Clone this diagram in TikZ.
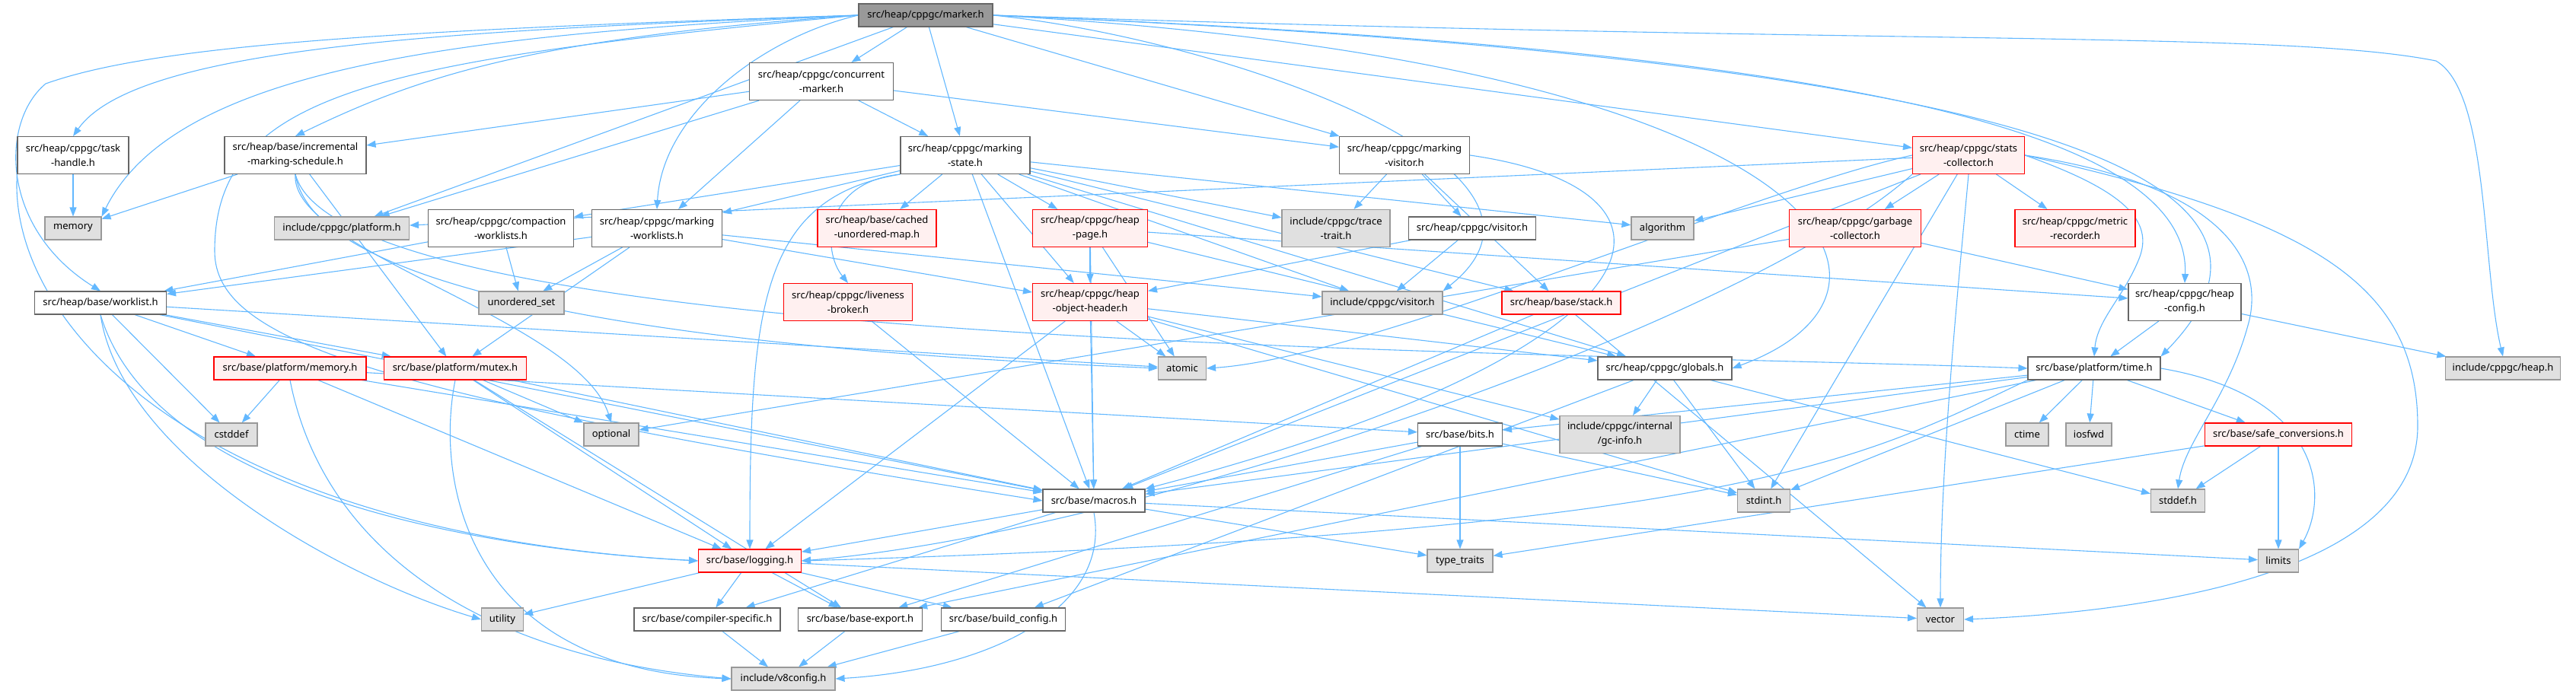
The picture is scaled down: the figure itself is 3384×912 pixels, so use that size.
\documentclass[tikz,border=0pt]{standalone}
\usepackage{fontspec}
\setmainfont{Noto Sans}
\usetikzlibrary{arrows.meta,backgrounds}
\definecolor{depB}{RGB}{99,184,255}
\definecolor{fileD}{RGB}{102,102,102}
\definecolor{sysF}{RGB}{224,224,224}
\definecolor{sysD}{RGB}{153,153,153}
\definecolor{cutF}{RGB}{255,240,240}
\definecolor{cutD}{RGB}{255,0,0}
\definecolor{rootF}{RGB}{153,153,153}
\tikzset{
  hfile/.style={draw=fileD, fill=white, line width=1.1pt, minimum height=30pt, inner xsep=4pt, inner ysep=2pt, align=center, font=\fontsize{13}{19}\selectfont},
  htwo/.style={minimum height=49pt},
  hsys/.style={hfile, draw=sysD, fill=sysF},
  hcut/.style={hfile, draw=cutD, fill=cutF},
  hroot/.style={hfile, fill=rootF},
  incl/.style={draw=depB, line width=1.1pt, -{Triangle[length=12pt,width=9pt]}},
}

\begin{document}
\begin{tikzpicture}[x=1pt,y=-1pt]
  \useasboundingbox (0,0) rectangle (3384,912);
  % row 0-1
  \node[hroot, minimum width=176pt] (marker) at (1216,20) {src/heap/cppgc/marker.h};
  \node[hfile, htwo, minimum width=189pt] (concmarker) at (1079,107) {src/heap/cppgc/concurrent\\-marker.h};
  % row 2
  \node[hfile, htwo, minimum width=146pt] (taskhandle) at (96,204) {src/heap/cppgc/task\\-handle.h};
  \node[hfile, htwo, minimum width=186pt] (incsched) at (388,204) {src/heap/base/incremental\\-marking-schedule.h};
  \node[hfile, htwo, minimum width=170pt] (markstate) at (1268,204) {src/heap/cppgc/marking\\-state.h};
  \node[hfile, htwo, minimum width=171pt] (markvisitor) at (1845,204) {src/heap/cppgc/marking\\-visitor.h};
  \node[hcut, htwo, minimum width=147pt] (stats) at (2586,204) {src/heap/cppgc/stats\\-collector.h};
  % row 3
  \node[hsys, minimum width=74pt] (memory) at (96,300) {memory};
  \node[hsys, minimum width=177pt] (platformh) at (449,300) {include/cppgc/platform.h};
  \node[hfile, htwo, minimum width=191pt] (compaction) at (658,300) {src/heap/cppgc/compaction\\-worklists.h};
  \node[hfile, htwo, minimum width=171pt] (markworklists) at (863,300) {src/heap/cppgc/marking\\-worklists.h};
  \node[hcut, htwo, minimum width=156pt] (cachedmap) at (1152,300) {src/heap/base/cached\\-unordered-map.h};
  \node[hcut, htwo, minimum width=151pt] (heappage) at (1432,300) {src/heap/cppgc/heap\\-page.h};
  \node[hsys, htwo, minimum width=142pt] (tracetrait) at (1755,300) {include/cppgc/trace\\-trait.h};
  \node[hfile, minimum width=167pt] (cvisitor) at (1934,300) {src/heap/cppgc/visitor.h};
  \node[hsys, minimum width=82pt] (algorithm) at (2184,300) {algorithm};
  \node[hcut, htwo, minimum width=173pt] (gc) at (2437,300) {src/heap/cppgc/garbage\\-collector.h};
  \node[hcut, htwo, minimum width=158pt] (metric) at (2726,300) {src/heap/cppgc/metric\\-recorder.h};
  % row 4
  \node[hfile, minimum width=173pt] (worklist) at (132,398) {src/heap/base/worklist.h};
  \node[hsys, minimum width=112pt] (unorderedset) at (685,398) {unordered\_set};
  \node[hcut, htwo, minimum width=169pt] (liveness) at (1114,397) {src/heap/cppgc/liveness\\-broker.h};
  \node[hcut, htwo, minimum width=151pt] (hoh) at (1432,397) {src/heap/cppgc/heap\\-object-header.h};
  \node[hsys, minimum width=158pt] (visitorh) at (1816,398) {include/cppgc/visitor.h};
  \node[hcut, minimum width=156pt] (stack) at (2051,398) {src/heap/base/stack.h};
  \node[hfile, htwo, minimum width=148pt] (heapconfig) at (2870,397) {src/heap/cppgc/heap\\-config.h};
  % row 5
  \node[hcut, minimum width=200pt] (pmemory) at (381,484) {src/base/platform/memory.h};
  \node[hcut, minimum width=187pt] (pmutex) at (598,484) {src/base/platform/mutex.h};
  \node[hsys, minimum width=63pt] (atomic) at (1553,484) {atomic};
  \node[hfile, minimum width=176pt] (globals) at (2187,484) {src/heap/cppgc/globals.h};
  \node[hfile, minimum width=174pt] (ptime) at (2751,484) {src/base/platform/time.h};
  \node[hsys, minimum width=151pt] (heaph) at (3288,484) {include/cppgc/heap.h};
  % row 6
  \node[hsys, minimum width=68pt] (cstddef) at (304,571) {cstddef};
  \node[hsys, minimum width=72pt] (optional) at (803,571) {optional};
  \node[hfile, minimum width=111pt] (bits) at (1918,571) {src/base/bits.h};
  \node[hsys, htwo, minimum width=158pt] (gcinfo) at (2128,571) {include/cppgc/internal\\/gc-info.h};
  \node[hsys, minimum width=56pt] (ctime) at (2663,571) {ctime};
  \node[hsys, minimum width=60pt] (iosfwd) at (2744,571) {iosfwd};
  \node[hcut, minimum width=193pt] (safeconv) at (2993,571) {src/base/safe\_conversions.h};
  % row 7-8
  \node[hfile, minimum width=134pt] (macros) at (1437,658) {src/base/macros.h};
  \node[hsys, minimum width=69pt] (stdint) at (2317,658) {stdint.h};
  \node[hsys, minimum width=71pt] (stddef) at (2861,658) {stddef.h};
  \node[hcut, minimum width=135pt] (logging) at (985,737) {src/base/logging.h};
  \node[hsys, minimum width=86pt] (typetraits) at (1918,737) {type\_traits};
  \node[hsys, minimum width=53pt] (limits) at (2993,737) {limits};
  % row 9-10
  \node[hsys, minimum width=55pt] (utility) at (660,814) {utility};
  \node[hfile, minimum width=192pt] (compspec) at (929,814) {src/base/compiler-specific.h};
  \node[hfile, minimum width=163pt] (baseexport) at (1130,814) {src/base/base-export.h};
  \node[hfile, minimum width=163pt] (buildconfig) at (1318,814) {src/base/build\_config.h};
  \node[hsys, minimum width=61pt] (vector) at (2549,814) {vector};
  \node[hsys, minimum width=136pt] (v8config) at (1029,892) {include/v8config.h};

  \begin{pgfonlayer}{background}
    % marker.h
    \foreach \t in {concmarker,markstate,markvisitor,stats,platformh}
      \draw[incl] (marker) -- (\t);
    \draw[incl] (marker.west) .. controls (600,40) and (180,60) .. (taskhandle.north);
    \draw[incl] (marker.west) .. controls (600,45) and (230,90) .. (memory.north east);
    \draw[incl] (marker.west) .. controls (500,40) and (200,60) .. (60,110) .. controls (0,160) and (0,300) .. (worklist.north);
    \draw[incl] (marker.west) .. controls (700,50) and (550,100) .. (incsched.north);
    \draw[incl] (marker.west) .. controls (1000,50) and (870,150) .. (markworklists.north);
    \draw[incl] (marker.west) .. controls (500,80) and (282,120) .. (282,330) .. controls (282,450) and (500,520) .. (macros.west);
    \draw[incl] (marker.east) .. controls (1600,50) and (2100,220) .. (visitorh.north east);
    \draw[incl] (marker.east) .. controls (2400,80) and (2560,380) .. (globals.east);
    \draw[incl] (marker.east) .. controls (2300,60) and (2880,150) .. (heapconfig.north);
    \draw[incl] (marker.east) .. controls (2500,70) and (3100,200) .. (ptime.north east);
    \draw[incl] (marker.east) .. controls (2500,60) and (3000,40) .. (3200,80) .. controls (3270,120) and (3260,350) .. (heaph.north);
    % task-handle.h, incremental-marking-schedule.h, concurrent-marker.h
    \draw[incl] (taskhandle) -- (memory);
    \draw[incl] (taskhandle.south west) .. controls (10,420) and (250,700) .. (logging.west);
    \foreach \t in {memory,pmutex}
      \draw[incl] (incsched) -- (\t);
    \draw[incl] (incsched.south) .. controls (380,330) and (760,420) .. (optional.north);
    \draw[incl] (incsched.south) .. controls (420,430) and (1200,470) .. (atomic.west);
    \draw[incl] (incsched.south) .. controls (450,460) and (2000,460) .. (ptime.west);
    \foreach \t in {incsched,platformh,markstate,markvisitor,markworklists}
      \draw[incl] (concmarker) -- (\t);
    % marking-state.h
    \foreach \t in {compaction,markworklists,cachedmap,heappage,hoh,tracetrait,algorithm,stack,globals,visitorh,macros}
      \draw[incl] (markstate) -- (\t);
    \draw[incl] (markstate.south west) .. controls (1080,240) and (1080,330) .. (liveness.north);
    \draw[incl] (markstate.south west) .. controls (1000,260) and (985,400) .. (logging.north);
    % marking-visitor.h, visitor.h
    \foreach \t in {tracetrait,cvisitor,stack}
      \draw[incl] (markvisitor) -- (\t);
    \draw[incl] (markvisitor.east) .. controls (2250,250) and (2200,460) .. (macros.north east);
    \foreach \t in {visitorh,hoh}
      \draw[incl] (cvisitor) -- (\t);
    % stats-collector.h
    \foreach \t in {gc,metric,algorithm,platformh,stdint,macros}
      \draw[incl] (stats) -- (\t);
    \draw[incl] (stats.west) .. controls (2300,250) and (1800,470) .. (atomic.east);
    \draw[incl] (stats.south west) .. controls (2300,420) and (1500,700) .. (logging.east);
    \draw[incl] (stats.east) .. controls (2790,250) and (2830,290) .. (2810,340) .. controls (2790,390) and (2755,420) .. (ptime.north);
    \draw[incl] (stats.east) .. controls (2900,240) and (2975,330) .. (2955,420) .. controls (2930,520) and (2870,580) .. (stddef.north);
    \draw[incl] (stats.south) .. controls (2575,350) and (2549,600) .. (vector.north);
    \draw[incl] (stats.east) .. controls (3050,290) and (3176,380) .. (3176,560) .. controls (3176,760) and (2800,805) .. (vector.east);
    % second level
    \foreach \t in {heapconfig,optional}
      \draw[incl] (gc) -- (\t);
    \draw[incl] (liveness) -- (macros);
    \foreach \t in {hoh,atomic,globals,macros,heapconfig}
      \draw[incl] (heappage) -- (\t);
    \foreach \t in {atomic,globals,macros,logging,gcinfo,stdint}
      \draw[incl] (hoh) -- (\t);
    \foreach \t in {gcinfo,stddef,stdint,buildconfig}
      \draw[incl] (globals) -- (\t);
    \foreach \t in {heaph,ptime}
      \draw[incl] (heapconfig) -- (\t);
    \foreach \t in {bits,macros,baseexport,ctime,iosfwd,stdint,safeconv}
      \draw[incl] (ptime) -- (\t);
    \draw[incl] (ptime.south west) .. controls (2450,600) and (2300,700) .. (logging.east);
    \draw[incl] (ptime.east) .. controls (3050,520) and (3060,650) .. (limits.north east);
    \foreach \t in {stddef,typetraits,limits}
      \draw[incl] (safeconv) -- (\t);
    \foreach \t in {typetraits,stdint,macros,baseexport}
      \draw[incl] (bits) -- (\t);
    \foreach \t in {cstddef,logging,macros,bits}
      \draw[incl] (pmemory) -- (\t);
    \draw[incl] (pmemory.south) .. controls (420,700) and (600,860) .. (v8config.west);
    \foreach \t in {optional,logging,baseexport,macros}
      \draw[incl] (pmutex) -- (\t);
    \draw[incl] (pmutex.south) .. controls (570,640) and (620,880) .. (v8config.west);
    \foreach \t in {pmemory,pmutex,cstddef,macros,atomic}
      \draw[incl] (worklist) -- (\t);
    \draw[incl] (worklist.south) .. controls (160,600) and (450,760) .. (utility.west);
    \draw[incl] (worklist.south) .. controls (200,640) and (600,720) .. (logging.west);
    \foreach \t in {worklist,unorderedset}
      \draw[incl] (compaction) -- (\t);
    \foreach \t in {worklist,unorderedset,pmutex,hoh,visitorh}
      \draw[incl] (markworklists) -- (\t);
    \foreach \t in {macros,vector}
      \draw[incl] (stack) -- (\t);
    % base headers
    \foreach \t in {logging,compspec,limits,typetraits}
      \draw[incl] (macros) -- (\t);
    \draw[incl] (macros.south) .. controls (1460,800) and (1300,880) .. (v8config.east);
    \foreach \t in {compspec,baseexport,buildconfig,utility,vector}
      \draw[incl] (logging) -- (\t);
    \foreach \t in {compspec,baseexport,buildconfig}
      \draw[incl] (\t) -- (v8config);
  \end{pgfonlayer}
\end{tikzpicture}
\end{document}
